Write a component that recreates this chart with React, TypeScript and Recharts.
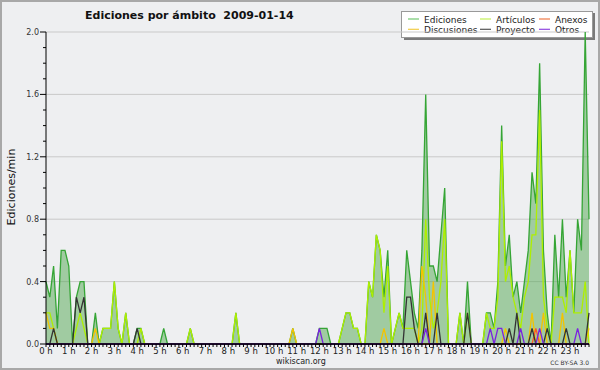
import { Area, CartesianGrid, ComposedChart, Line, ReferenceLine, XAxis, YAxis } from "recharts";

// one value every 10 minutes, 144 per day (12 per row = 2 hours)
const ediciones = [
  0.4, 0.3, 0.5, 0.1, 0.6, 0.6, 0.5, 0, 0.3, 0.4, 0.4, 0,
  0, 0.2, 0, 0.1, 0.1, 0.1, 0.4, 0.1, 0, 0.2, 0, 0,
  0.1, 0.1, 0, 0, 0, 0, 0, 0.1, 0, 0, 0, 0,
  0, 0, 0.1, 0, 0, 0, 0, 0, 0, 0, 0, 0,
  0, 0, 0.2, 0, 0, 0, 0, 0, 0, 0, 0, 0,
  0, 0, 0, 0, 0, 0.1, 0, 0, 0, 0, 0, 0,
  0.1, 0.1, 0.1, 0, 0, 0, 0.1, 0.2, 0.2, 0.1, 0.1, 0,
  0, 0.4, 0.3, 0.7, 0.6, 0.3, 0.6, 0, 0.1, 0.2, 0.1, 0.6,
  0.4, 0.2, 0.1, 0.6, 1.6, 0.5, 0.5, 0.4, 0.7, 1.0, 0, 0,
  0, 0.2, 0, 0.4, 0, 0, 0, 0, 0.2, 0.2, 0.1, 0.4,
  1.4, 0.5, 0.7, 0.3, 0.4, 0.2, 0.4, 0.6, 1.1, 0.9, 1.8, 0.6,
  0.2, 0, 0.7, 0.3, 0.8, 0.3, 0.6, 0.2, 0.8, 0.6, 2.0, 0.8,
];

const articulos = [
  0.2, 0.2, 0.1, 0, 0, 0, 0, 0, 0.1, 0.2, 0.1, 0,
  0, 0, 0, 0.1, 0.1, 0.1, 0.4, 0.1, 0, 0.2, 0, 0,
  0, 0.1, 0, 0, 0, 0, 0, 0, 0, 0, 0, 0,
  0, 0, 0.1, 0, 0, 0, 0, 0, 0, 0, 0, 0,
  0, 0, 0.2, 0, 0, 0, 0, 0, 0, 0, 0, 0,
  0, 0, 0, 0, 0, 0, 0, 0, 0, 0, 0, 0,
  0, 0, 0, 0, 0, 0, 0.1, 0.2, 0.2, 0.1, 0.1, 0,
  0, 0.4, 0.3, 0.7, 0.6, 0.2, 0.5, 0, 0.1, 0.2, 0.1, 0.1,
  0.1, 0.1, 0, 0.1, 0.8, 0.3, 0.1, 0.2, 0.4, 0.8, 0, 0,
  0, 0.2, 0, 0.2, 0, 0, 0, 0, 0.2, 0.1, 0.1, 0.3,
  1.3, 0.4, 0.5, 0.3, 0.2, 0.1, 0.3, 0.4, 0.7, 0.7, 1.5, 0.3,
  0.1, 0, 0.3, 0.3, 0.3, 0.2, 0.6, 0.2, 0.2, 0.2, 0.4, 0,
];

const discusiones = [
  0.2, 0.1, 0.1, 0, 0, 0, 0, 0, 0, 0, 0, 0,
  0, 0.1, 0, 0, 0, 0, 0, 0, 0, 0, 0, 0,
  0, 0, 0, 0, 0, 0, 0, 0, 0, 0, 0, 0,
  0, 0, 0, 0, 0, 0, 0, 0, 0, 0, 0, 0,
  0, 0, 0, 0, 0, 0, 0, 0, 0, 0, 0, 0,
  0, 0, 0, 0, 0, 0.1, 0, 0, 0, 0, 0, 0,
  0, 0, 0, 0, 0, 0, 0, 0, 0, 0, 0, 0,
  0, 0, 0, 0, 0, 0.1, 0, 0, 0, 0, 0, 0,
  0, 0, 0, 0.5, 0.3, 0, 0.4, 0, 0, 0, 0, 0,
  0, 0, 0, 0, 0, 0, 0, 0, 0, 0, 0, 0,
  0, 0.1, 0, 0, 0, 0, 0, 0, 0.2, 0, 0, 0.2,
  0, 0, 0, 0, 0.2, 0, 0, 0, 0, 0, 0, 0.1,
];

const anexos = [
  0, 0, 0, 0, 0, 0, 0, 0, 0, 0, 0, 0,
  0, 0, 0, 0, 0, 0, 0, 0, 0, 0, 0, 0,
  0, 0, 0, 0, 0, 0, 0, 0, 0, 0, 0, 0,
  0, 0, 0, 0, 0, 0, 0, 0, 0, 0, 0, 0,
  0, 0, 0, 0, 0, 0, 0, 0, 0, 0, 0, 0,
  0, 0, 0, 0, 0, 0, 0, 0, 0, 0, 0, 0,
  0, 0, 0, 0, 0, 0, 0, 0, 0, 0, 0, 0,
  0, 0, 0, 0, 0, 0, 0, 0, 0, 0, 0, 0,
  0, 0, 0, 0, 0, 0, 0, 0, 0, 0, 0, 0,
  0, 0, 0, 0, 0, 0, 0, 0, 0, 0, 0, 0,
  0, 0, 0, 0, 0, 0, 0, 0, 0, 0.1, 0, 0,
  0, 0, 0, 0, 0, 0, 0, 0, 0, 0, 0, 0,
];

const proyecto = [
  0, 0, 0.1, 0, 0, 0, 0, 0, 0.3, 0.2, 0.3, 0,
  0, 0, 0, 0, 0, 0, 0, 0, 0, 0, 0, 0,
  0.1, 0, 0, 0, 0, 0, 0, 0, 0, 0, 0, 0,
  0, 0, 0, 0, 0, 0, 0, 0, 0, 0, 0, 0,
  0, 0, 0, 0, 0, 0, 0, 0, 0, 0, 0, 0,
  0, 0, 0, 0, 0, 0, 0, 0, 0, 0, 0, 0,
  0, 0, 0, 0, 0, 0, 0, 0, 0, 0, 0, 0,
  0, 0, 0, 0, 0, 0, 0, 0, 0, 0, 0, 0.3,
  0.3, 0.1, 0, 0, 0.2, 0, 0, 0.2, 0, 0, 0, 0,
  0, 0, 0, 0.2, 0, 0, 0, 0, 0, 0, 0, 0,
  0, 0, 0.1, 0, 0.2, 0, 0, 0, 0.1, 0, 0, 0,
  0.1, 0, 0, 0, 0, 0.1, 0, 0, 0, 0, 0, 0.2,
];

const otros = [
  0, 0, 0, 0, 0, 0, 0, 0, 0, 0, 0, 0,
  0, 0, 0, 0, 0, 0, 0, 0, 0, 0, 0, 0,
  0, 0, 0, 0, 0, 0, 0, 0, 0, 0, 0, 0,
  0, 0, 0, 0, 0, 0, 0, 0, 0, 0, 0, 0,
  0, 0, 0, 0, 0, 0, 0, 0, 0, 0, 0, 0,
  0, 0, 0, 0, 0, 0, 0, 0, 0, 0, 0, 0,
  0.1, 0, 0, 0, 0, 0, 0, 0, 0, 0, 0, 0,
  0, 0, 0, 0, 0, 0, 0, 0, 0, 0, 0, 0,
  0, 0, 0, 0, 0.1, 0, 0, 0, 0, 0, 0, 0,
  0, 0, 0, 0, 0, 0, 0, 0, 0, 0.1, 0, 0.1,
  0.1, 0, 0, 0, 0, 0.1, 0, 0, 0, 0, 0.1, 0,
  0, 0, 0, 0, 0, 0, 0, 0, 0.1, 0, 0, 0,
];

const hourLabels = [
  "0 h", "1 h", "2 h", "3 h", "4 h", "5 h", "6 h", "7 h", "8 h", "9 h", "10 h", "11 h",
  "12 h", "13 h", "14 h", "15 h", "16 h", "17 h", "18 h", "19 h", "20 h", "21 h", "22 h", "23 h",
];

const yTicks = [
  0, 0.1, 0.2, 0.3, 0.4, 0.5, 0.6, 0.7, 0.8, 0.9, 1.0,
  1.1, 1.2, 1.3, 1.4, 1.5, 1.6, 1.7, 1.8, 1.9, 2.0,
];
const gridValues = [0.4, 0.8, 1.2, 1.6, 2.0];

const data = ediciones.map((v, i) => ({
  idx: i,
  ediciones: v,
  articulos: articulos[i],
  discusiones: discusiones[i],
  anexos: anexos[i],
  proyecto: proyecto[i],
  otros: otros[i],
}));
const xTicks = data.map((d) => d.idx);

const FONT = '"DejaVu Sans", Verdana, sans-serif';

const legendItems = [
  { name: "Ediciones", color: "#72c872", col: 0, row: 0 },
  { name: "Artículos", color: "#c4f058", col: 1, row: 0 },
  { name: "Anexos", color: "#f07a48", col: 2, row: 0 },
  { name: "Discusiones", color: "#f2cc48", col: 0, row: 1 },
  { name: "Proyecto", color: "#555", col: 1, row: 1 },
  { name: "Otros", color: "#9048e0", col: 2, row: 1 },
];
const legendCols = [408, 480, 539];

function XTick(props: any) {
  const { x, y, payload } = props;
  const v = payload.value as number;
  return (
    <g>
      <line x1={x} x2={x} y1={y} y2={y + 3} stroke="#000" strokeWidth={1} />
      {v % 6 === 0 && (
        <text x={x} y={y + 9.5} textAnchor="middle" fontSize={8.5} fill="#222" fontFamily={FONT}>
          {hourLabels[v / 6]}
        </text>
      )}
    </g>
  );
}

function YTick(props: any) {
  const { x, y, index } = props;
  const major = index % 4 === 0;
  return (
    <g>
      <line x1={x - (major ? 6 : 3)} x2={x} y1={y} y2={y} stroke="#000" strokeWidth={1} />
      {major && (
        <text x={x - 7} y={y + 3} textAnchor="end" fontSize={8} fill="#333" fontFamily={FONT}>
          {yTicks[index].toFixed(1)}
        </text>
      )}
    </g>
  );
}

export default function App() {
  return (
    <div
      style={{
        position: "absolute",
        left: 0,
        top: 0,
        width: 600,
        height: 370,
        background: "#eeeff1",
        boxShadow: "inset 0 0 0 2px #a8a8a8",
      }}
    >
      <svg width={600} height={370} style={{ position: "absolute", left: 0, top: 0 }}>
        <text x={85} y={18.5} fontSize={11} fontWeight="bold" fill="#111" fontFamily={FONT} style={{ whiteSpace: "pre" }}>
          {"Ediciones por ámbito  2009-01-14"}
        </text>
        <text
          x={14.5}
          y={187}
          fontSize={11}
          fill="#111"
          fontFamily={FONT}
          textAnchor="middle"
          transform="rotate(-90 14.5 187)"
        >
          Ediciones/min
        </text>
        <text x={276} y={364} fontSize={8} fill="#222" fontFamily={FONT}>
          wikiscan.org
        </text>
        <text x={589} y={364.5} fontSize={6} fill="#333" fontFamily={FONT} textAnchor="end">
          CC BY-SA 3.0
        </text>
        {/* legend box */}
        <rect x={404} y={13} width={191} height={27} fill="#7a7a7a" />
        <rect x={401.5} y={11.5} width={191} height={26} fill="#fff" stroke="#999" />
        {legendItems.map((it) => {
          const lx = legendCols[it.col];
          const ly = it.row === 0 ? 19 : 29.3;
          return (
            <g key={it.name}>
              <line x1={lx} x2={lx + 11} y1={ly} y2={ly} stroke={it.color} strokeWidth={1.2} />
              <text x={lx + 16} y={ly + 3.5} fontSize={9} fill="#222" fontFamily={FONT}>
                {it.name}
              </text>
            </g>
          );
        })}
      </svg>
      <div style={{ position: "absolute", left: 0, top: 0 }}>
        <ComposedChart width={600} height={370} data={data} margin={{ top: 32, right: 11, bottom: 0, left: 0 }}>
          <CartesianGrid vertical={false} horizontalValues={gridValues} stroke="#c9c9c9" />
          <XAxis
            dataKey="idx"
            type="number"
            domain={["dataMin", "dataMax"]}
            ticks={xTicks}
            interval={0}
            tickLine={false}
            tickSize={0}
            tickMargin={0}
            tick={(p: any) => <XTick {...p} />}
            height={26}
            axisLine={{ stroke: "#000" }}
          />
          <YAxis
            type="number"
            domain={[0, 2]}
            ticks={yTicks}
            interval={0}
            width={46}
            tickLine={false}
            tickSize={0}
            tickMargin={0}
            tick={(p: any) => <YTick {...p} />}
            axisLine={{ stroke: "#000" }}
          />
          <Area
            type="linear"
            dataKey="ediciones"
            stroke="#35a535"
            strokeWidth={1.3}
            fill="#52a852"
            fillOpacity={0.5}
            dot={false}
            activeDot={false}
            isAnimationActive={false}
          />
          <Line type="linear" dataKey="articulos" stroke="#aeef00" strokeWidth={1.3} dot={false} activeDot={false} isAnimationActive={false} />
          <Line type="linear" dataKey="discusiones" stroke="#f4c400" strokeWidth={1.3} dot={false} activeDot={false} isAnimationActive={false} />
          <Line type="linear" dataKey="anexos" stroke="#ff5a26" strokeWidth={1.3} dot={false} activeDot={false} isAnimationActive={false} />
          <Line type="linear" dataKey="proyecto" stroke="#333" strokeWidth={1.3} dot={false} activeDot={false} isAnimationActive={false} />
          <Line type="linear" dataKey="otros" stroke="#7a22e0" strokeWidth={1.3} dot={false} activeDot={false} isAnimationActive={false} />
          <ReferenceLine y={0} stroke="#000" strokeWidth={1.2} />
        </ComposedChart>
      </div>
    </div>
  );
}
